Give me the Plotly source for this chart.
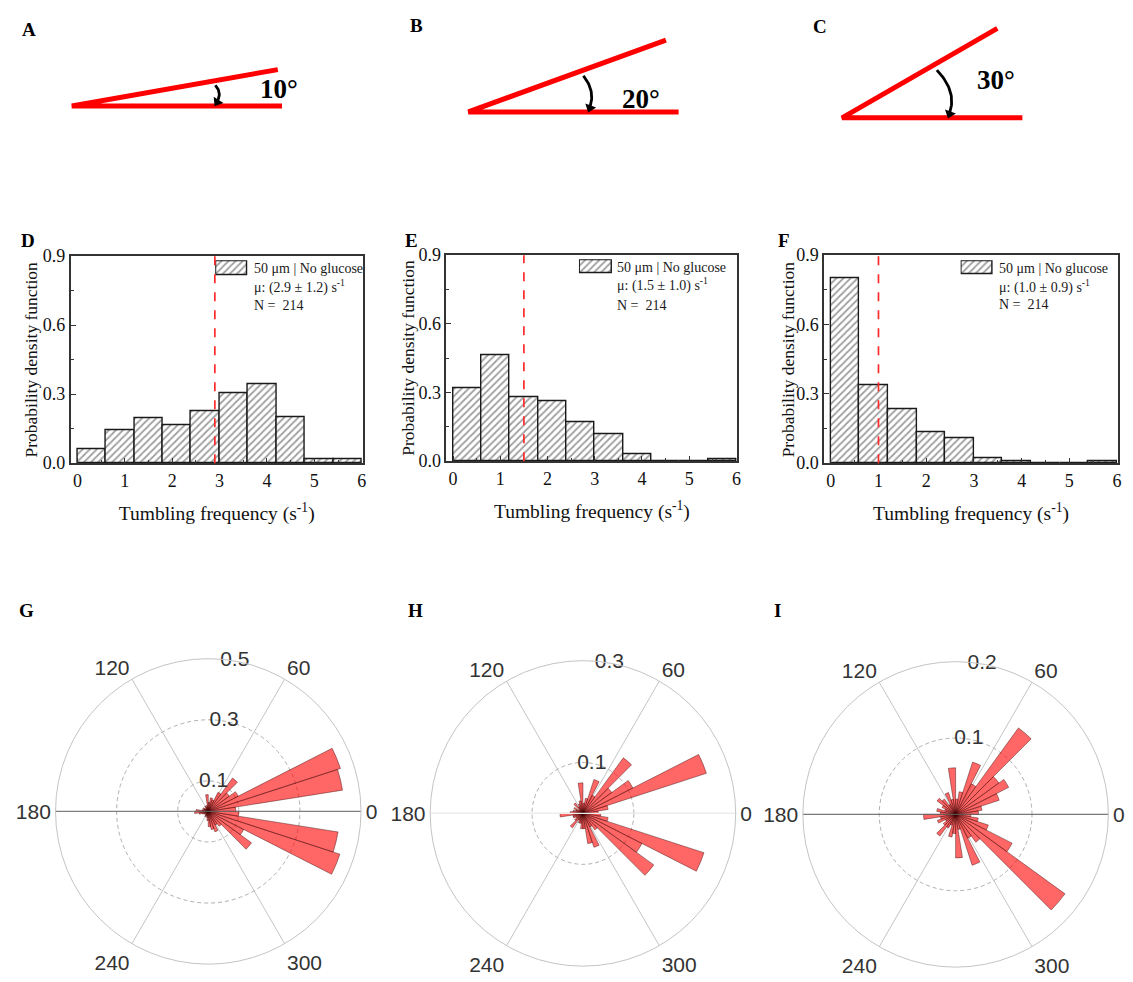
import math
import numpy as np
import plotly.graph_objects as go

W, H = 1133, 982

# ------------------------------------------------------------------ data
panel_angles = [10, 20, 30]
angle_labels = ["10°", "20°", "30°"]

tumble_edges = [0.0, 0.6, 1.2, 1.8, 2.4, 3.0, 3.6, 4.2, 4.8, 5.4, 6.0]
pdf_D = [0.062, 0.142, 0.194, 0.165, 0.227, 0.303, 0.342, 0.202, 0.016, 0.016]
pdf_E = [0.320, 0.462, 0.279, 0.263, 0.170, 0.119, 0.032, 0.0, 0.0, 0.007]
pdf_F = [0.800, 0.337, 0.235, 0.132, 0.108, 0.023, 0.009, 0.0, 0.0, 0.009]
means = [2.9, 1.5, 1.0]
sds = [1.2, 1.0, 0.9]
n_cells = [214, 214, 214]
legend_label = "50 μm | No glucose"
hist_yticks = [0.0, 0.3, 0.6, 0.9]
hist_xticks = [0, 1, 2, 3, 4, 5, 6]

rose_bin_width = 9
rose_centers = [rose_bin_width * k + rose_bin_width / 2 for k in range(40)]
rose_G = [0.09, 0.445, 0.455, 0.11, 0.085, 0.135, 0.07, 0.04, 0.045, 0.03,
          0.055, 0.02, 0.015, 0.02, 0.01, 0.015, 0.02, 0.015, 0.02, 0.04,
          0.045, 0.03, 0.02, 0.015, 0.01, 0.015, 0.02, 0.015, 0.02, 0.03,
          0.05, 0.06, 0.07, 0.05, 0.06, 0.175, 0.13, 0.453, 0.43, 0.10]
rose_H = [0.03, 0.05, 0.255, 0.11, 0.07, 0.135, 0.04, 0.07, 0.03, 0.02,
          0.06, 0.025, 0.02, 0.015, 0.025, 0.01, 0.02, 0.015, 0.02, 0.025,
          0.045, 0.02, 0.02, 0.015, 0.02, 0.035, 0.015, 0.02, 0.02, 0.03,
          0.03, 0.06, 0.07, 0.03, 0.04, 0.172, 0.13, 0.25, 0.05, 0.035]
rose_I = [0.03, 0.035, 0.06, 0.078, 0.07, 0.14, 0.045, 0.072, 0.03, 0.02,
          0.061, 0.02, 0.03, 0.015, 0.025, 0.03, 0.02, 0.015, 0.025, 0.02,
          0.042, 0.02, 0.025, 0.015, 0.02, 0.035, 0.02, 0.015, 0.03, 0.025,
          0.057, 0.02, 0.07, 0.035, 0.045, 0.177, 0.083, 0.045, 0.03, 0.02]
rose_rmax = [0.5, 0.3, 0.2]
rose_rticks = [[0.1, 0.3, 0.5], [0.1, 0.3], [0.1, 0.2]]
rose_rlabel_angle = 80
rose_theta_ticks = [0, 60, 120, 180, 240, 300]

# ------------------------------------------------------------------ helpers
SY, OY = 0.9845, 7.6   # vertical calibration of the rendered page


def fx(px):
    return px / W


def fy(py):
    return 1 - ((py - OY) / SY) / H


SERIF = "Liberation Serif"
SANS = "Liberation Sans"

fig = go.Figure()
annotations = []
shapes = []

# ------------------------------------------------------------------ A-C : angle sketches
vertices = [(72, 104), (470, 110), (845, 116)]
base_len = [211, 211, 181]
upper_len = [210, 211, 180]
arc_r = [146, 122, 108]
arc_bulge = [6, 9, 14]
label_pos = [(280, 87), (643, 97), (1000, 78)]

for i, ang in enumerate(panel_angles):
    vx, vy = vertices[i]
    a = math.radians(ang)
    xs = [vx + base_len[i], vx, vx + upper_len[i] * math.cos(a)]
    ys = [vy, vy, vy - upper_len[i] * math.sin(a)]
    fig.add_trace(go.Scatter(x=xs, y=ys, mode="lines",
                             line=dict(color="#ff0000", width=5),
                             xaxis="x5", yaxis="y5", hoverinfo="skip"))
    r = arc_r[i]
    a0 = a * 0.94
    p0 = (vx + r * math.cos(a0), vy - r * math.sin(a0) + 3)
    p2 = (vx + r, vy - 5)
    mid = ((p0[0] + p2[0]) / 2, (p0[1] + p2[1]) / 2)
    p1 = (mid[0] + arc_bulge[i], mid[1])
    t = np.linspace(0, 1, 30)
    bx = (1 - t) ** 2 * p0[0] + 2 * (1 - t) * t * p1[0] + t ** 2 * p2[0]
    by = (1 - t) ** 2 * p0[1] + 2 * (1 - t) * t * p1[1] + t ** 2 * p2[1]
    fig.add_trace(go.Scatter(x=bx, y=by, mode="lines",
                             line=dict(color="black", width=2.8),
                             xaxis="x5", yaxis="y5", hoverinfo="skip"))
    dx, dy = p2[0] - p1[0], p2[1] - p1[1]
    mang = math.degrees(math.atan2(-dx, dy))
    fig.add_trace(go.Scatter(x=[p2[0]], y=[p2[1] + 1], mode="markers",
                             marker=dict(symbol="triangle-down", size=10, color="black",
                                         angle=mang),
                             xaxis="x5", yaxis="y5", hoverinfo="skip"))
    annotations.append(dict(x=label_pos[i][0], y=label_pos[i][1], xref="x5", yref="y5",
                            text=f"<b>{angle_labels[i]}</b>", showarrow=False,
                            font=dict(family=SERIF, size=27, color="black"),
                            xanchor="center", yanchor="middle"))

# ------------------------------------------------------------------ D-F : histograms
hist_boxes = [(71, 364, 255, 463), (448, 740, 254, 461), (827, 1122, 254, 463)]
ytitle_x = [31, 410, 791]
swatches = [(216, 249, 259, 275), (581, 615, 258, 273), (964, 997, 259, 274)]
legend_text_x = [253, 617, 1001]
legend_text_y = [(267, 285, 305), (266, 283, 305), (267, 285, 304)]
pdfs = [pdf_D, pdf_E, pdf_F]
centers = [(a + b) / 2 for a, b in zip(tumble_edges[:-1], tumble_edges[1:])]
widths = [b - a for a, b in zip(tumble_edges[:-1], tumble_edges[1:])]

bar_marker = dict(color="white", line=dict(color="#1a1a1a", width=1.4),
                  pattern=dict(shape="/", fgcolor="#404040", bgcolor="white",
                               size=5, solidity=0.35))

axis_common = dict(showline=True, linecolor="#333333", linewidth=1.6, mirror=True,
                   showgrid=False, zeroline=False, ticks="inside", ticklen=5,
                   tickwidth=1.3, tickcolor="#333333",
                   tickfont=dict(family=SERIF, size=18, color="#111111"))

layout_axes = {}
for j in range(3):
    n = j + 2
    x0, x1, y0, y1 = hist_boxes[j]
    fig.add_trace(go.Bar(x=centers, y=pdfs[j], width=widths, marker=bar_marker,
                         xaxis=f"x{n}", yaxis=f"y{n}", hoverinfo="skip"))
    layout_axes[f"xaxis{n}"] = dict(
        axis_common, domain=[fx(x0), fx(x1)], anchor=f"y{n}", range=[-0.14, 6.02],
        tickvals=hist_xticks, ticktext=[str(v) for v in hist_xticks],
        minor=dict(ticks="inside", ticklen=3, dtick=0.5, tickcolor="#333333"),
        title=dict(text="Tumbling frequency (s<sup>-1</sup>)", standoff=17,
                   font=dict(family=SERIF, size=19.5, color="#111111")))
    layout_axes[f"yaxis{n}"] = dict(
        axis_common, domain=[fy(y1), fy(y0)], anchor=f"x{n}", range=[0, 0.9],
        tickvals=hist_yticks, ticktext=[f"{v:.1f}" for v in hist_yticks],
        minor=dict(ticks="inside", ticklen=3, dtick=0.15, tickcolor="#333333"))
    annotations.append(dict(x=fx(ytitle_x[j]), y=fy((y0 + y1) / 2), xref="paper", yref="paper",
                            text="Probability density function", textangle=-90,
                            showarrow=False, xanchor="center", yanchor="middle",
                            font=dict(family=SERIF, size=17.5, color="#111111")))
    shapes.append(dict(type="line", xref=f"x{n}", yref=f"y{n} domain",
                       x0=means[j], x1=means[j], y0=0, y1=1,
                       line=dict(color="#ff2a2a", width=1.7, dash="dash")))
    # legend swatch
    m = j + 6
    sx0, sx1, sy0, sy1 = swatches[j]
    fig.add_trace(go.Bar(x=[0], y=[1], width=[1], marker=bar_marker,
                         xaxis=f"x{m}", yaxis=f"y{m}", hoverinfo="skip"))
    layout_axes[f"xaxis{m}"] = dict(domain=[fx(sx0), fx(sx1)], anchor=f"y{m}",
                                    range=[-0.53, 0.53], visible=False, fixedrange=True)
    layout_axes[f"yaxis{m}"] = dict(domain=[fy(sy1), fy(sy0)], anchor=f"x{m}",
                                    range=[-0.06, 1.06], visible=False, fixedrange=True)
    texts = [legend_label,
             f"μ: ({means[j]:.1f} ± {sds[j]:.1f}) s<sup>-1</sup>",
             f"N =  {n_cells[j]}"]
    for tx, ty in zip(texts, legend_text_y[j]):
        annotations.append(dict(x=fx(legend_text_x[j]), y=fy(ty), xref="paper", yref="paper",
                                text=tx, showarrow=False, xanchor="left", yanchor="middle",
                                font=dict(family=SERIF, size=14, color="#1a1a1a")))

# ------------------------------------------------------------------ G-I : rose plots
rose_centers_px = [(209, 813), (585, 815), (959, 816)]
RAD = 153.5
roses = [rose_G, rose_H, rose_I]
axis_line_colors = ["rgba(110,110,110,0.8)", "#ececec", "rgba(100,100,100,0.8)"]
for k in range(3):
    sub = "polar" if k == 0 else f"polar{k + 1}"
    rmax = rose_rmax[k]
    fig.add_trace(go.Barpolar(r=roses[k], theta=rose_centers,
                              width=[rose_bin_width] * len(rose_centers),
                              marker=dict(color="rgba(255,0,0,0.6)",
                                          line=dict(color="rgba(50,0,0,0.6)", width=0.7)),
                              subplot=sub, hoverinfo="skip"))
    fig.add_trace(go.Scatterpolar(r=[rmax, 0, rmax], theta=[180, 0, 0], mode="lines",
                                  line=dict(color=axis_line_colors[k], width=1.2),
                                  subplot=sub, hoverinfo="skip"))
    fig.add_trace(go.Scatterpolar(r=rose_rticks[k],
                                  theta=[rose_rlabel_angle] * len(rose_rticks[k]),
                                  mode="text", text=[f"{v:.1f}" for v in rose_rticks[k]],
                                  textposition="middle center",
                                  textfont=dict(family=SANS, size=21, color="#333333"),
                                  cliponaxis=False, subplot=sub, hoverinfo="skip"))
    cx, cy = rose_centers_px[k]
    layout_axes[sub] = dict(
        domain=dict(x=[fx(cx - RAD), fx(cx + RAD)], y=[fy(cy + RAD), fy(cy - RAD)]),
        bgcolor="white",
        radialaxis=dict(range=[0, rmax], tickvals=rose_rticks[k],
                        showticklabels=False, showline=False, ticks="",
                        gridcolor="#b0b0b0", griddash="4px,3px", gridwidth=1),
        angularaxis=dict(tickmode="array", tickvals=rose_theta_ticks,
                         ticktext=[str(v) for v in rose_theta_ticks],
                         direction="counterclockwise", rotation=0,
                         gridcolor="#c4c4c4", linecolor="#c4c4c4", showline=True,
                         ticks="", tickfont=dict(family=SANS, size=21, color="#333333")))

# ------------------------------------------------------------------ panel letters
letters = ["A", "B", "C", "D", "E", "F", "G", "H", "I"]
letter_pos = [(29, 27), (418, 23), (823, 24), (28, 239), (413, 239), (787, 239),
              (27, 611), (417, 611), (780, 611)]
for L, (lx, ly) in zip(letters, letter_pos):
    annotations.append(dict(x=fx(lx), y=fy(ly), xref="paper", yref="paper", text=f"<b>{L}</b>",
                            showarrow=False, xanchor="center", yanchor="middle",
                            font=dict(family=SERIF, size=19, color="black")))

layout_axes["xaxis5"] = dict(domain=[0, 1], anchor="y5", range=[0, W], visible=False,
                             fixedrange=True)
layout_axes["yaxis5"] = dict(domain=[fy(150), 1], anchor="x5", range=[150, OY],
                             visible=False, fixedrange=True)

fig.update_layout(width=W, height=H, margin=dict(l=0, r=0, t=0, b=0),
                  paper_bgcolor="white", plot_bgcolor="white", showlegend=False,
                  annotations=annotations, shapes=shapes, bargap=0, **layout_axes)

fig.write_html("out.html")
